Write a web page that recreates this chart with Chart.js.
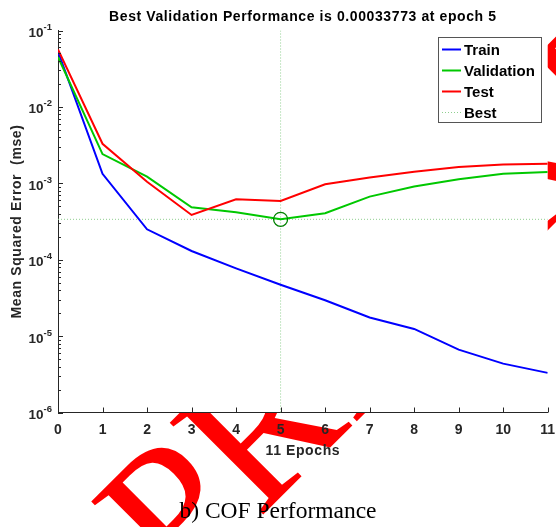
<!DOCTYPE html>
<html>
<head>
<meta charset="utf-8">
<title>COF Performance</title>
<script src="https://cdn.jsdelivr.net/npm/chart.js@4.4.1/dist/chart.umd.min.js"></script>
<style>
  html, body { margin: 0; padding: 0; background: #fff; }
  #wrap { position: relative; width: 556px; height: 527px; overflow: hidden; }
  #stamp {
    position: absolute; left: 180px; top: 431px; z-index: 0;
    font: 200px/200px 'Liberation Serif', 'Times New Roman', serif;
    color: #f00; white-space: nowrap;
    transform-origin: 0 167.5px; transform: rotate(-45deg);
  }
  #perf { position: absolute; left: 0; top: 0; z-index: 1; }
  #caption {
    position: absolute; left: 0; top: 499px; width: 556px; z-index: 2;
    text-align: center; color: #000;
    font: 23.5px/23.5px 'Liberation Serif', 'Times New Roman', serif;
  }
</style>
</head>
<body>
<div id="wrap">
  <div id="stamp">PREPRINT</div>
  <canvas id="perf" width="556" height="527"></canvas>
  <div id="caption">b) COF Performance</div>
</div>

<script>
// ── Data ──────────────────────────────────────────────────
const epochs        = [0, 1, 2, 3, 4, 5, 6, 7, 8, 9, 10, 11];
const trainMse      = [0.053, 0.00133, 0.00025, 0.00013, 0.000077, 0.000047, 0.0000295, 0.0000175, 0.0000124, 0.00000665, 0.00000436, 0.0000033];
const validationMse = [0.045, 0.00241, 0.00122, 0.000485, 0.000418, 0.00033773, 0.000405, 0.00067, 0.000906, 0.00113, 0.00133, 0.00141];
const testMse       = [0.0564, 0.00329, 0.00105, 0.000385, 0.000618, 0.000587, 0.000973, 0.00119, 0.00142, 0.00163, 0.00176, 0.0018];

const bestEpoch = 5;
const bestPerf  = 0.00033773;

const xTicks      = [0, 1, 2, 3, 4, 5, 6, 7, 8, 9, 10, 11];
const yExponents  = [-6, -5, -4, -3, -2, -1];

const titleText  = 'Best Validation Performance is 0.00033773 at epoch 5';
const xAxisTitle = '11 Epochs';
const yAxisTitle = 'Mean Squared Error  (mse)';

// ── Look ──────────────────────────────────────────────────
const INK  = '#262626';
const SANS = "'Liberation Sans', Arial, Helvetica, sans-serif";
const BEST_DOT = '#8fcf8f';

const xMin = xTicks[0], xMax = xTicks[xTicks.length - 1];
const yMin = Math.pow(10, yExponents[0]), yMax = Math.pow(10, yExponents[yExponents.length - 1]);

function toPoints(values) {
    return values.map((v, i) => ({ x: epochs[i], y: v }));
}

// ── MATLAB-ish furniture: white axes, inward ticks, labels, legend ──
const perfFrame = {
    id: 'perfFrame',
    beforeDraw(chart) {
        const { ctx, chartArea: a } = chart;
        ctx.save();
        ctx.fillStyle = '#fff';
        ctx.fillRect(a.left, a.top, a.right - a.left, a.bottom - a.top);
        ctx.restore();
    },
    afterDraw(chart) {
        const { ctx, chartArea: a } = chart;
        const xs = chart.scales.x, ys = chart.scales.y;
        ctx.save();
        ctx.strokeStyle = INK;
        ctx.lineWidth = 1;

        // inward ticks
        ctx.beginPath();
        xTicks.forEach(t => {
            const px = Math.round(xs.getPixelForValue(t)) + 0.5;
            ctx.moveTo(px, a.bottom);
            ctx.lineTo(px, a.bottom - 5);
        });
        yExponents.forEach(e => {
            const py = Math.round(ys.getPixelForValue(Math.pow(10, e))) + 0.5;
            ctx.moveTo(a.left, py);
            ctx.lineTo(a.left + 5, py);
            if (e === yExponents[yExponents.length - 1]) return;
            for (let m = 2; m <= 9; m++) {
                const my = Math.round(ys.getPixelForValue(m * Math.pow(10, e))) + 0.5;
                ctx.moveTo(a.left, my);
                ctx.lineTo(a.left + 3, my);
            }
        });
        ctx.stroke();

        // y tick labels as 10^n
        ctx.fillStyle = INK;
        ctx.textBaseline = 'alphabetic';
        yExponents.forEach(e => {
            const py = ys.getPixelForValue(Math.pow(10, e));
            const right = a.left - 6;
            const exp = String(e);
            ctx.font = 'bold 9.5px ' + SANS;
            ctx.textAlign = 'right';
            const expW = ctx.measureText(exp).width;
            ctx.fillText(exp, right, py - 0.5);
            ctx.font = 'bold 13.5px ' + SANS;
            ctx.fillText('10', right - expW, py + 6.5);
        });

        // title and axis titles
        const cx = (a.left + a.right) / 2;
        ctx.textAlign = 'center';
        ctx.letterSpacing = '0.6px';
        ctx.fillStyle = '#000';
        ctx.font = 'bold 14px ' + SANS;
        ctx.fillText(titleText, cx, 20.5);
        ctx.fillStyle = INK;
        ctx.fillText(xAxisTitle, cx, 454.5);
        ctx.save();
        ctx.translate(21, (a.top + a.bottom) / 2);
        ctx.rotate(-Math.PI / 2);
        ctx.fillText(yAxisTitle, 0, 0);
        ctx.restore();
        ctx.letterSpacing = '0px';

        // legend
        const box = { left: 438.5, top: 37.5, width: 103, height: 85 };
        ctx.fillStyle = '#fff';
        ctx.fillRect(box.left, box.top, box.width, box.height);
        ctx.strokeStyle = '#555';
        ctx.lineWidth = 1;
        ctx.strokeRect(box.left, box.top, box.width, box.height);
        ctx.font = 'bold 15px ' + SANS;
        ctx.textAlign = 'left';
        ctx.textBaseline = 'middle';
        chart.data.datasets.filter(d => d.inLegend).forEach((d, i) => {
            const y = 49.5 + i * 21;
            ctx.save();
            ctx.strokeStyle = d.borderColor;
            ctx.lineWidth = d.borderWidth;
            ctx.setLineDash(d.borderDash || []);
            ctx.beginPath();
            ctx.moveTo(442, y);
            ctx.lineTo(461, y);
            ctx.stroke();
            ctx.restore();
            ctx.fillStyle = '#000';
            ctx.fillText(d.label, 464, y + 1);
        });
        ctx.restore();
    }
};

// ── Chart ────────────────────────────────────────────────
const perfChart = new Chart(document.getElementById('perf'), {
    type: 'line',
    data: {
        datasets: [
            { label: 'Train', inLegend: true, data: toPoints(trainMse),
              borderColor: '#0000ff', borderWidth: 2, pointRadius: 0, order: 3 },
            { label: 'Validation', inLegend: true, data: toPoints(validationMse),
              borderColor: '#00c800', borderWidth: 2, pointRadius: 0, order: 2 },
            { label: 'Test', inLegend: true, data: toPoints(testMse),
              borderColor: '#ff0000', borderWidth: 2, pointRadius: 0, order: 1 },
            { label: 'Best', inLegend: true,
              data: [{ x: bestEpoch, y: yMin }, { x: bestEpoch, y: yMax }],
              borderColor: BEST_DOT, borderWidth: 1, borderDash: [1, 2], pointRadius: 0, order: 5 },
            { label: 'Best level',
              data: [{ x: xMin, y: bestPerf }, { x: xMax, y: bestPerf }],
              borderColor: BEST_DOT, borderWidth: 1, borderDash: [1, 2], pointRadius: 0, order: 6 },
            { label: 'Best point', data: [{ x: bestEpoch, y: bestPerf }],
              showLine: false, pointRadius: 7, pointBorderWidth: 1.3,
              pointBorderColor: '#008000', pointBackgroundColor: 'rgba(0,0,0,0)', order: 0 }
        ]
    },
    options: {
        responsive: false,
        animation: false,
        events: [],
        layout: { padding: { top: 30.5, left: 57, right: 6.5, bottom: 84.5 } },
        plugins: { legend: { display: false }, title: { display: false }, tooltip: { enabled: false } },
        scales: {
            x: {
                type: 'linear', min: xMin, max: xMax,
                afterFit: s => { s.height = 30; s.paddingLeft = 0; s.paddingRight = 0; },
                afterBuildTicks: s => { s.ticks = xTicks.map(v => ({ value: v })); },
                grid: { display: false, drawTicks: false },
                border: { color: INK, width: 1 },
                ticks: { color: INK, padding: 9.5, autoSkip: false, maxRotation: 0,
                         font: { family: SANS, size: 14, weight: 'bold' } }
            },
            y: {
                type: 'logarithmic', min: yMin, max: yMax,
                afterFit: s => { s.width = 1; },
                grid: { display: false, drawTicks: false },
                border: { color: INK, width: 1 },
                ticks: { display: false }
            }
        }
    },
    plugins: [perfFrame]
});
</script>
</body>
</html>
